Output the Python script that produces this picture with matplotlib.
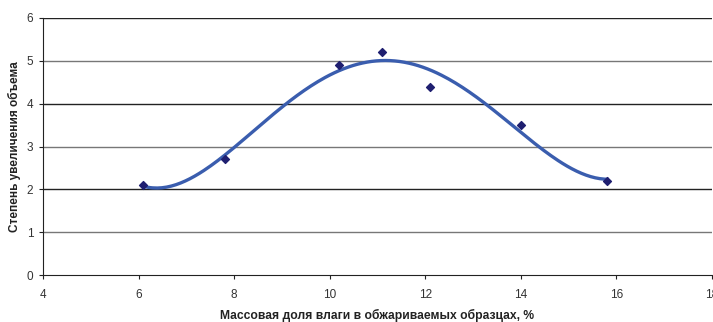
import numpy as np
import matplotlib
matplotlib.use("Agg")
from matplotlib import pyplot as plt

# moisture (%) vs volume increase
moisture = [6.1, 7.8, 10.2, 11.1, 12.1, 14.0, 15.8]
volume = [2.1, 2.7, 4.9, 5.2, 4.4, 3.5, 2.2]
trend_degree = 4

fig = plt.figure(figsize=(7.13, 3.22), dpi=100)
ax = fig.add_axes([43/713, 1 - 275/322, (712 - 43)/713, (275 - 18)/322])

for yv in range(1, 7):
    ax.axhline(yv, color="#222222" if yv % 2 == 0 else "#777777", lw=1.0, zorder=1)

# polynomial trend line, like in Excel
coef = np.polyfit(moisture, volume, trend_degree)
xs = np.linspace(min(moisture), max(moisture), 200)
ax.plot(xs, np.polyval(coef, xs), color="#3A5DAE", lw=2.4, zorder=2)
ax.scatter(moisture, volume, marker="D", s=16, color="#1F1F70", zorder=3)

ax.set_xlim(4, 18)
ax.set_ylim(0, 6)
ax.set_xticks(range(4, 19, 2))
ax.set_yticks(range(0, 7))
for s in ["top", "right"]:
    ax.spines[s].set_visible(False)
ax.spines["left"].set_color("#222222")
ax.spines["bottom"].set_color("#222222")
ax.tick_params(direction="out", length=3, width=0.8, colors="#222222",
               labelcolor="#333333", pad=4)
ax.tick_params(axis="x", pad=7)
for lab in ax.get_xticklabels() + ax.get_yticklabels():
    lab.set_family("Liberation Sans")
    lab.set_fontsize(8.5)

ax.set_xlabel("Массовая доля влаги в обжариваемых образцах, %",
              family="Liberation Sans", fontweight="bold", fontsize=8.7,
              color="#222222", labelpad=6)
ax.set_ylabel("Степень увеличения объема", family="Liberation Sans",
              fontweight="bold", fontsize=8.5, color="#222222", labelpad=4)

fig.savefig("out.png", dpi=100)
